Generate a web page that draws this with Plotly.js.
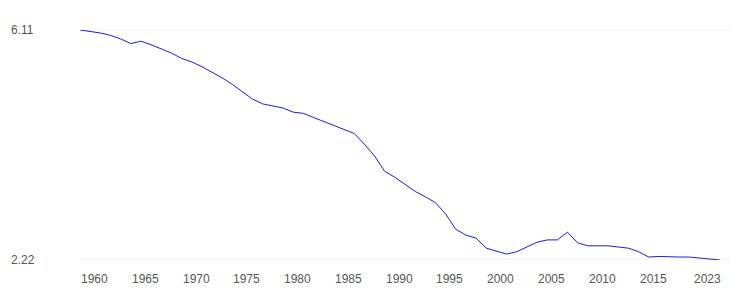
<!DOCTYPE html>
<html>
<head>
<meta charset="utf-8">
<script src="https://cdn.plot.ly/plotly-3.0.1.min.js"></script>
<style>html,body{margin:0;padding:0;background:#fff;}#chart{width:730px;height:290px;}</style>
</head>
<body>
<div id="chart"></div>
<script>
const years = [];
for (let y = 1960; y <= 2023; y++) years.push(y);
const values = [
  6.11, 6.09, 6.06, 6.02, 5.96, 5.88, 5.92, 5.86, 5.79, 5.72,
  5.63, 5.57, 5.49, 5.40, 5.30, 5.19, 5.07, 4.94, 4.86, 4.82,
  4.79, 4.72, 4.70, 4.63, 4.56, 4.49, 4.43, 4.36, 4.18, 3.98,
  3.72, 3.62, 3.50, 3.38, 3.29, 3.19, 3.00, 2.74, 2.64, 2.59,
  2.42, 2.37, 2.32, 2.36, 2.44, 2.52, 2.56, 2.56, 2.69, 2.51,
  2.46, 2.46, 2.46, 2.44, 2.42, 2.36, 2.27, 2.28, 2.27, 2.27,
  2.27, 2.25, 2.23, 2.22
];
const xTickYears = [1960, 1965, 1970, 1975, 1980, 1985, 1990, 1995, 2000, 2005, 2010, 2015, 2023];
const xTickLabels = ["1960","1965","1970","1975","1980","1985","1990","1995","2000","2005","2010","2015","2023"];
const yTickVals = [2.22, 6.11];
const yTickLabels = ["2.22", "6.11"];

const font = {family: "Liberation Sans, Arial, sans-serif", size: 12, color: "#555"};
const annotations = [];
xTickYears.forEach((yr, i) => {
  const last = i === xTickYears.length - 1;
  annotations.push({
    x: yr, xref: "x", y: 0, yref: "paper",
    text: xTickLabels[i], showarrow: false,
    xanchor: last ? "right" : "left", yanchor: "top",
    yshift: -11, xshift: last ? 2 : 0, font: font, borderpad: 0
  });
});
yTickVals.forEach((v, i) => {
  annotations.push({
    x: 0, xref: "paper", xshift: -70, y: v, yref: "y",
    text: yTickLabels[i], showarrow: false,
    xanchor: "left", yanchor: "middle", font: font, borderpad: 0
  });
});
const shapes = yTickVals.map(v => ({
  type: "line", xref: "paper", x0: 0, x1: 1, yref: "y", y0: v, y1: v,
  line: {color: "#ebebeb", width: 1}, layer: "below"
}));

Plotly.newPlot("chart", [{
  x: years, y: values, type: "scatter", mode: "lines",
  line: {color: "#1a1aee", width: 1}, hoverinfo: "skip", cliponaxis: false
}], {
  width: 730, height: 290,
  margin: {l: 80, r: 0, t: 30, b: 30},
  paper_bgcolor: "#fff", plot_bgcolor: "#fff",
  showlegend: false,
  xaxis: {range: [1960, 2024], showgrid: false, zeroline: false, showline: false,
          showticklabels: false, ticks: ""},
  yaxis: {range: [2.22, 6.11], showgrid: false, zeroline: false, showline: false,
          showticklabels: false, ticks: ""},
  annotations: annotations,
  shapes: shapes,
  font: font
}, {staticPlot: true, displayModeBar: false});
</script>
</body>
</html>
